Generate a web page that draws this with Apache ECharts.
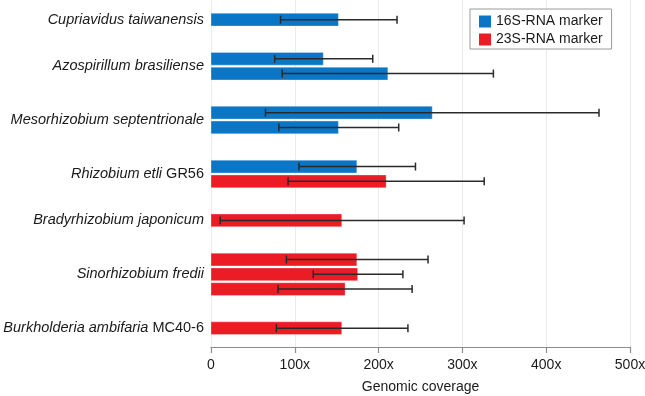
<!DOCTYPE html>
<html>
<head>
<meta charset="utf-8">
<script src="https://cdn.jsdelivr.net/npm/echarts@6/dist/echarts.min.js"></script>
<style>
  html, body { margin: 0; padding: 0; background: #fff; }
  #chart { width: 645px; height: 396px; }
</style>
</head>
<body>
<div id="chart"></div>
<script>
// species, top to bottom (italic part + roman suffix)
const speciesItalic = ['Cupriavidus taiwanensis', 'Azospirillum brasiliense', 'Mesorhizobium septentrionale',
  'Rhizobium etli', 'Bradyrhizobium japonicum', 'Sinorhizobium fredii', 'Burkholderia ambifaria'];
const speciesSuffix = ['', '', '', 'GR56', '', '', 'MC40-6'];

// one entry per bar
const barGroup  = [0, 1, 1, 2, 2, 3, 3, 4, 5, 5, 5, 6];
const barMarker = ['16S', '16S', '16S', '16S', '16S', '16S', '23S', '23S', '23S', '23S', '23S', '23S'];
const coverage  = [152, 134, 211, 264, 152, 174, 209, 156, 174, 175, 160, 156];
const errLow    = [83, 76, 85, 65, 81, 105, 92, 11, 90, 122, 80, 78];
const errHigh   = [222, 193, 337, 463, 224, 244, 326, 302, 259, 229, 240, 235];

const xTicks = [0, 100, 200, 300, 400, 500];
const markerNames = { '16S': '16S-RNA marker', '23S': '23S-RNA marker' };

const FONT = "'Liberation Sans', Arial, Helvetica, sans-serif";
const BLUE = '#0c76c6';
const RED = '#ec1c24';
const GROUP_GAP = 1.64;   // extra space between species groups, in bar rows
const BAR_H = 0.86;       // bar thickness, in bar rows

// row position of each bar on the (hidden) y axis
const barPos = barGroup.map((g, k) => k + GROUP_GAP * g);
const groupPos = speciesItalic.map((s, g) => {
  const ps = barPos.filter((p, k) => barGroup[k] === g);
  return (Math.min(...ps) + Math.max(...ps)) / 2;
});

// [coverage, position, low, high] for one marker
function barData(marker) {
  const out = [];
  coverage.forEach((v, k) => {
    if (barMarker[k] === marker) out.push([v, barPos[k], errLow[k], errHigh[k]]);
  });
  return out;
}

function renderBar(params, api) {
  const y = api.value(1);
  const start = api.coord([0, y]);
  const end = api.coord([api.value(0), y]);
  const lo = api.coord([api.value(2), y]);
  const hi = api.coord([api.value(3), y]);
  const h = api.size([0, BAR_H])[1];
  const c = 4;
  const st = { stroke: '#2a2a2a', lineWidth: 1.5 };
  return {
    type: 'group',
    children: [
      {
        type: 'rect',
        shape: { x: start[0], y: start[1] - h / 2, width: end[0] - start[0], height: h },
        style: { fill: api.visual('color'), stroke: 'rgba(255,255,255,0.3)', lineWidth: 1 }
      },
      { type: 'line', z2: 5, shape: { x1: lo[0], y1: lo[1], x2: hi[0], y2: hi[1] }, style: st },
      { type: 'line', z2: 5, shape: { x1: lo[0], y1: lo[1] - c, x2: lo[0], y2: lo[1] + c }, style: st },
      { type: 'line', z2: 5, shape: { x1: hi[0], y1: hi[1] - c, x2: hi[0], y2: hi[1] + c }, style: st }
    ]
  };
}

function renderLabel(params, api) {
  const g = params.dataIndex;
  const p = api.coord([0, api.value(1)]);
  const suffix = speciesSuffix[g] ? ' {r|' + speciesSuffix[g] + '}' : '';
  return {
    type: 'text',
    x: p[0] - 7,
    y: p[1],
    style: {
      text: '{i|' + speciesItalic[g] + '}' + suffix,
      align: 'right',
      verticalAlign: 'middle',
      fill: '#1a1a1a',
      font: '14.5px ' + FONT,
      rich: {
        i: { fontStyle: 'italic', fontSize: 14.5, fontFamily: FONT, fill: '#1a1a1a' },
        r: { fontSize: 14.5, fontFamily: FONT, fill: '#1a1a1a' }
      }
    }
  };
}

const chart = echarts.init(document.getElementById('chart'));
const option = {
  animation: false,
  textStyle: { fontFamily: FONT },
  grid: { left: 211, right: 15, top: 0, bottom: 49, containLabel: false, outerBoundsMode: 'none' },
  legend: {
    orient: 'vertical',
    left: 470,
    top: 9,
    padding: [5, 9, 2, 9],
    itemWidth: 12,
    itemHeight: 12,
    itemGap: 3,
    itemTextGap: 4,
    icon: 'rect',
    backgroundColor: '#fff',
    borderColor: '#9a9a9a',
    borderWidth: 1,
    borderRadius: 0,
    textStyle: { fontSize: 14, lineHeight: 15, color: '#1a1a1a', fontFamily: FONT },
    data: [markerNames['16S'], markerNames['23S']]
  },
  xAxis: {
    type: 'value',
    min: xTicks[0],
    max: xTicks[xTicks.length - 1],
    interval: 100,
    name: 'Genomic coverage',
    nameLocation: 'middle',
    nameGap: 33,
    nameTextStyle: { fontSize: 14, color: '#1a1a1a' },
    axisLine: { show: true, onZero: false, lineStyle: { color: '#8c8c8c', width: 1.2 } },
    axisTick: { show: true, length: 6, lineStyle: { color: '#8c8c8c', width: 1.2 } },
    axisLabel: {
      fontSize: 14, color: '#1a1a1a', margin: 11,
      formatter: v => v === 0 ? '0' : v + 'x'
    },
    splitLine: { show: true, lineStyle: { color: '#ebebeb', width: 1 } }
  },
  yAxis: {
    type: 'value',
    inverse: true,
    min: -1.33,
    max: 22.11,
    show: false,
    splitLine: { show: false }
  },
  series: [
    {
      name: markerNames['16S'],
      type: 'custom',
      itemStyle: { color: BLUE },
      renderItem: renderBar,
      encode: { x: [0, 2, 3], y: 1 },
      data: barData('16S')
    },
    {
      name: markerNames['23S'],
      type: 'custom',
      itemStyle: { color: RED },
      renderItem: renderBar,
      encode: { x: [0, 2, 3], y: 1 },
      data: barData('23S')
    },
    {
      name: 'labels',
      type: 'custom',
      clip: false,
      silent: true,
      renderItem: renderLabel,
      encode: { x: 0, y: 1 },
      data: groupPos.map(p => [0, p])
    }
  ]
};
chart.setOption(option);
</script>
</body>
</html>
